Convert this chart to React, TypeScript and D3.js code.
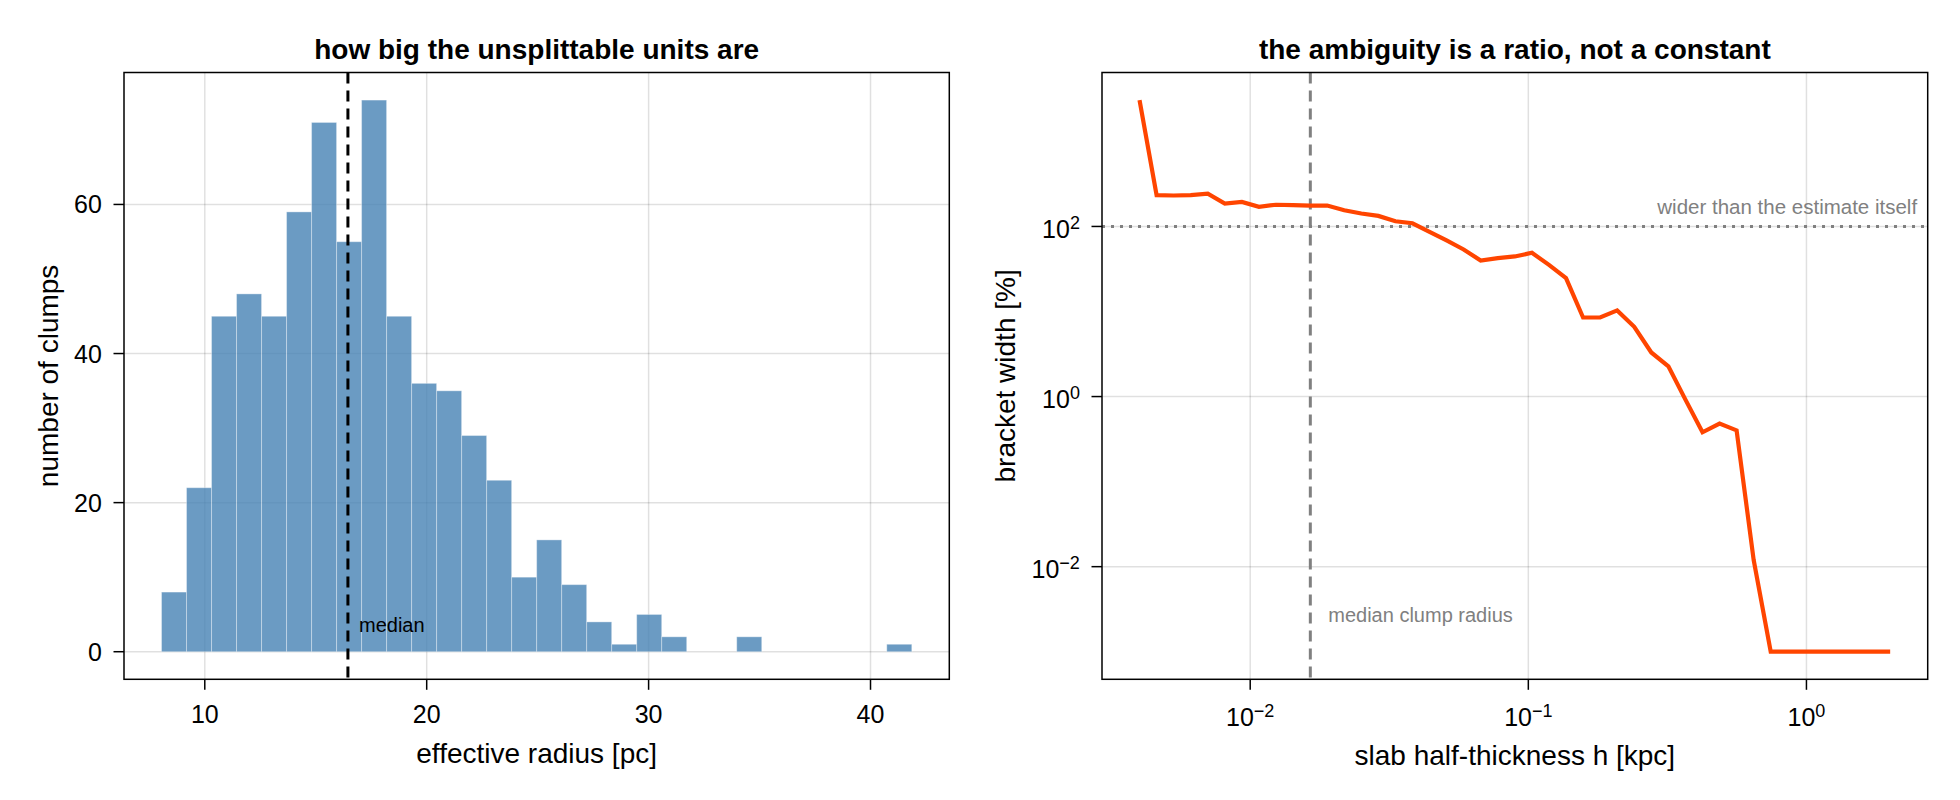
import { useEffect, useRef } from 'react';
import * as d3 from 'd3';

// left panel: clump effective radii [pc], 30 equal bins
const radiusRange = [8.05, 41.86];
const clumpCounts = [
  8, 22, 45, 48, 45, 59, 71, 55, 74, 45, 36, 35, 29, 23, 10,
  15, 9, 4, 1, 5, 2, 0, 0, 2, 0, 0, 0, 0, 0, 1,
];
const medianRadius = 16.45; // pc
const radiusTicks = [10, 20, 30, 40];
const countTicks = [0, 20, 40, 60];

// right panel: bracket width vs slab half-thickness
const halfThickness = [
  0.004, 0.004607, 0.005306, 0.006111, 0.007039, 0.008105, 0.009335, 0.010751, 0.012382,
  0.014262, 0.016426, 0.018916, 0.021784, 0.025088, 0.028892, 0.033273, 0.038316, 0.04413,
  0.050822, 0.058527, 0.0674, 0.077661, 0.08943, 0.10301, 0.11863, 0.13663, 0.15734,
  0.1812, 0.20868, 0.24036, 0.27681, 0.31886, 0.36721, 0.4229, 0.48707, 0.56092,
  0.64595, 0.74392, 0.85688, 0.98701, 1.1367, 1.3092, 1.5078, 1.7366, 2.0,
];
const bracketWidth = [
  3060, 233, 231, 233, 243, 186, 194, 170, 180,
  178, 176, 176, 155, 142, 133, 115, 109, 86.5,
  68.4, 53.6, 39.8, 42.5, 44.4, 49.0, 35.3, 24.7, 8.5,
  8.5, 10.3, 6.6, 3.3, 2.27, 0.92, 0.38, 0.48, 0.40,
  0.012, 0.001, 0.001, 0.001, 0.001, 0.001, 0.001, 0.001, 0.001,
];
const thicknessExps = [-2, -1, 0];
const widthExps = [-2, 0, 2];

const W = 1960;
const H = 800;
const FONT = '"Liberation Sans", Arial, Helvetica, sans-serif';

const App = () => {
  const ref = useRef<SVGSVGElement>(null);

  useEffect(() => {
    if (!ref.current) return;
    const svg = d3.select(ref.current);
    svg.selectAll('*').remove();

    const top = 72.5;
    const bottom = 679.3;
    const left = { x0: 124, x1: 949.3 };
    const right = { x0: 1102, x1: 1927.7 };
    const tickLen = 10.5;
    const grid = 'rgba(0,0,0,0.12)';
    const tickSize = 25;
    const labelSize = 28;
    const titleSize = 28;

    const root = svg.append('g').style('font-family', FONT);

    const exponent = (e: number) => (e < 0 ? `\u2212${-e}` : `${e}`);
    const powText = (t: d3.Selection<SVGTextElement, unknown, null, undefined>, e: number) => {
      t.append('tspan').text('10');
      t.append('tspan').attr('dy', '-0.5em').attr('font-size', '0.72em').text(exponent(e));
    };

    // ---------- left: histogram ----------
    const binW = (radiusRange[1] - radiusRange[0]) / clumpCounts.length;
    const xSpan = radiusRange[1] - radiusRange[0];
    const xL = d3.scaleLinear()
      .domain([radiusRange[0] - 0.05 * xSpan, radiusRange[1] + 0.05 * xSpan])
      .range([left.x0, left.x1]);
    const maxCount = d3.max(clumpCounts) as number;
    const yL = d3.scaleLinear()
      .domain([-0.05 * maxCount, maxCount * 1.05])
      .range([bottom, top]);

    const bins = clumpCounts
      .map((count, i) => ({ count, lo: radiusRange[0] + i * binW }))
      .filter(b => b.count > 0);

    const gl = root.append('g');

    // grid
    gl.selectAll('.gx').data(radiusTicks).enter().append('line')
      .attr('x1', d => xL(d)).attr('x2', d => xL(d))
      .attr('y1', top).attr('y2', bottom)
      .attr('stroke', grid).attr('stroke-width', 1.5);
    gl.selectAll('.gy').data(countTicks).enter().append('line')
      .attr('x1', left.x0).attr('x2', left.x1)
      .attr('y1', d => yL(d)).attr('y2', d => yL(d))
      .attr('stroke', grid).attr('stroke-width', 1.5);

    // bars
    gl.selectAll('.bar').data(bins).enter().append('rect')
      .attr('x', d => xL(d.lo))
      .attr('width', d => xL(d.lo + binW) - xL(d.lo))
      .attr('y', d => yL(d.count))
      .attr('height', d => yL(0) - yL(d.count))
      .attr('fill', 'steelblue')
      .attr('fill-opacity', 0.8)
      .attr('stroke', 'rgba(255,255,255,0.35)')
      .attr('stroke-width', 1);

    // median line + label
    gl.append('line')
      .attr('x1', xL(medianRadius)).attr('x2', xL(medianRadius))
      .attr('y1', top).attr('y2', bottom)
      .attr('stroke', 'black').attr('stroke-width', 3)
      .attr('stroke-dasharray', '11 7');
    gl.append('text')
      .attr('x', xL(medianRadius + 0.5))
      .attr('y', yL(2) - 4.5)
      .attr('font-size', 20)
      .attr('fill', 'black')
      .text('median');

    // frame
    gl.append('rect')
      .attr('x', left.x0).attr('y', top)
      .attr('width', left.x1 - left.x0).attr('height', bottom - top)
      .attr('fill', 'none').attr('stroke', 'black').attr('stroke-width', 1.5);

    // ticks
    gl.selectAll('.tx').data(radiusTicks).enter().append('line')
      .attr('x1', d => xL(d)).attr('x2', d => xL(d))
      .attr('y1', bottom).attr('y2', bottom + tickLen)
      .attr('stroke', 'black').attr('stroke-width', 1.5);
    gl.selectAll('.tlx').data(radiusTicks).enter().append('text')
      .attr('x', d => xL(d)).attr('y', bottom + 44)
      .attr('text-anchor', 'middle').attr('font-size', tickSize)
      .text(d => d);
    gl.selectAll('.ty').data(countTicks).enter().append('line')
      .attr('x1', left.x0 - tickLen).attr('x2', left.x0)
      .attr('y1', d => yL(d)).attr('y2', d => yL(d))
      .attr('stroke', 'black').attr('stroke-width', 1.5);
    gl.selectAll('.tly').data(countTicks).enter().append('text')
      .attr('x', left.x0 - tickLen - 11.6).attr('y', d => yL(d) + 9)
      .attr('text-anchor', 'end').attr('font-size', tickSize)
      .text(d => d);

    // labels
    gl.append('text')
      .attr('x', (left.x0 + left.x1) / 2).attr('y', 59)
      .attr('text-anchor', 'middle').attr('font-size', titleSize).attr('font-weight', 'bold')
      .text('how big the unsplittable units are');
    gl.append('text')
      .attr('x', (left.x0 + left.x1) / 2).attr('y', 763)
      .attr('text-anchor', 'middle').attr('font-size', labelSize)
      .text('effective radius [pc]');
    gl.append('text')
      .attr('transform', `translate(58, ${(top + bottom) / 2}) rotate(-90)`)
      .attr('text-anchor', 'middle').attr('font-size', labelSize)
      .text('number of clumps');

    // ---------- right: log-log line ----------
    const hExt = d3.extent(halfThickness) as [number, number];
    const hPad = 0.05 * Math.log10(hExt[1] / hExt[0]);
    const xR = d3.scaleLog()
      .domain([hExt[0] / 10 ** hPad, hExt[1] * 10 ** hPad])
      .range([right.x0, right.x1]);
    const bExt = d3.extent(bracketWidth) as [number, number];
    const bPad = 0.05 * Math.log10(bExt[1] / bExt[0]);
    const yR = d3.scaleLog()
      .domain([bExt[0] / 10 ** bPad, bExt[1] * 10 ** bPad])
      .range([bottom, top]);

    const gr = root.append('g');

    gr.selectAll('.gx').data(thicknessExps).enter().append('line')
      .attr('x1', d => xR(10 ** d)).attr('x2', d => xR(10 ** d))
      .attr('y1', top).attr('y2', bottom)
      .attr('stroke', grid).attr('stroke-width', 1.5);
    gr.selectAll('.gy').data(widthExps).enter().append('line')
      .attr('x1', right.x0).attr('x2', right.x1)
      .attr('y1', d => yR(10 ** d)).attr('y2', d => yR(10 ** d))
      .attr('stroke', grid).attr('stroke-width', 1.5);

    // reference lines
    gr.append('line')
      .attr('x1', right.x0).attr('x2', right.x1)
      .attr('y1', yR(100)).attr('y2', yR(100))
      .attr('stroke', 'gray').attr('stroke-width', 3)
      .attr('stroke-dasharray', '3 6');
    gr.append('line')
      .attr('x1', xR(medianRadius / 1000)).attr('x2', xR(medianRadius / 1000))
      .attr('y1', top).attr('y2', bottom)
      .attr('stroke', 'gray').attr('stroke-width', 3)
      .attr('stroke-dasharray', '11 7');

    const line = d3.line<number>()
      .x((_, i) => xR(halfThickness[i]))
      .y(d => yR(d));
    gr.append('path')
      .datum(bracketWidth)
      .attr('fill', 'none')
      .attr('stroke', 'orangered')
      .attr('stroke-width', 4.2)
      .attr('stroke-linejoin', 'miter')
      .attr('stroke-miterlimit', 3)
      .attr('d', line);

    gr.append('text')
      .attr('x', xR(2.5)).attr('y', yR(100) - 12.5)
      .attr('text-anchor', 'end').attr('font-size', 20.5).attr('fill', 'gray')
      .text('wider than the estimate itself');
    gr.append('text')
      .attr('x', xR(medianRadius / 1000 * 1.16)).attr('y', yR(0.002) - 4.5)
      .attr('font-size', 20).attr('fill', 'gray')
      .text('median clump radius');

    gr.append('rect')
      .attr('x', right.x0).attr('y', top)
      .attr('width', right.x1 - right.x0).attr('height', bottom - top)
      .attr('fill', 'none').attr('stroke', 'black').attr('stroke-width', 1.5);

    gr.selectAll('.tx').data(thicknessExps).enter().append('line')
      .attr('x1', d => xR(10 ** d)).attr('x2', d => xR(10 ** d))
      .attr('y1', bottom).attr('y2', bottom + tickLen)
      .attr('stroke', 'black').attr('stroke-width', 1.5);
    thicknessExps.forEach(e => {
      const t = gr.append('text')
        .attr('x', xR(10 ** e)).attr('y', bottom + 46.5)
        .attr('text-anchor', 'middle').attr('font-size', tickSize);
      powText(t, e);
    });
    gr.selectAll('.ty').data(widthExps).enter().append('line')
      .attr('x1', right.x0 - tickLen).attr('x2', right.x0)
      .attr('y1', d => yR(10 ** d)).attr('y2', d => yR(10 ** d))
      .attr('stroke', 'black').attr('stroke-width', 1.5);
    widthExps.forEach(e => {
      const t = gr.append('text')
        .attr('x', right.x0 - tickLen - 11.6).attr('y', yR(10 ** e) + 11.5)
        .attr('text-anchor', 'end').attr('font-size', tickSize);
      powText(t, e);
    });

    gr.append('text')
      .attr('x', (right.x0 + right.x1) / 2).attr('y', 59)
      .attr('text-anchor', 'middle').attr('font-size', titleSize).attr('font-weight', 'bold')
      .text('the ambiguity is a ratio, not a constant');
    gr.append('text')
      .attr('x', (right.x0 + right.x1) / 2).attr('y', 765)
      .attr('text-anchor', 'middle').attr('font-size', labelSize)
      .text('slab half-thickness h [kpc]');
    gr.append('text')
      .attr('transform', `translate(1015, ${(top + bottom) / 2}) rotate(-90)`)
      .attr('text-anchor', 'middle').attr('font-size', labelSize)
      .text('bracket width [%]');
  }, []);

  return (
    <svg
      ref={ref}
      width={W}
      height={H}
      style={{ position: 'absolute', left: 0, top: 0, background: 'white' }}
    />
  );
};

export default App;
